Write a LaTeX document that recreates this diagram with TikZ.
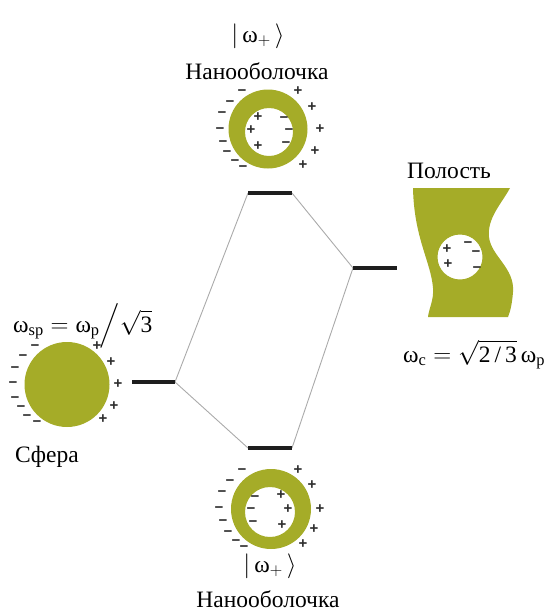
\documentclass[tikz,border=0pt]{standalone}
\usepackage{amsmath}
\usepackage{fontspec}
\setmainfont{Liberation Serif}
\newfontfamily\chgfont{Liberation Sans}
\definecolor{olive}{RGB}{165,172,40}
\definecolor{levelc}{RGB}{30,30,30}
\definecolor{linkc}{RGB}{170,170,170}
\definecolor{chgc}{RGB}{45,45,45}
\newcommand{\om}{\text{ω}}
\tikzset{
  level/.style={line width=4pt, draw=levelc},
  link/.style={line width=0.9pt, draw=linkc},
  lbl/.style={font=\fontsize{23.5}{28}\selectfont, inner sep=0pt, anchor=base},
  chg/.style={font=\chgfont\bfseries\fontsize{15}{15}\selectfont, text=chgc, inner sep=0pt, anchor=base},
  metal/.style={fill=olive, draw=none},
}
% charge signs: baseline placed a little below the given centre
\newcommand{\minuses}[2]{%
  \foreach [count=\i] \x/\y in {#2}
    \node[chg] (#1\i) at ([yshift=-5pt]\x,\y) {−};}
\newcommand{\pluses}[2]{%
  \foreach [count=\i] \x/\y in {#2}
    \node[chg] (#1\i) at ([yshift=-5pt]\x,\y) {+};}
\begin{document}
\begin{tikzpicture}[x=1pt,y=-1pt]
\useasboundingbox (0,0) rectangle (544,614);

% ---- energy levels ----
\coordinate (topL) at (248,193);  \coordinate (topR) at (292,193);
\coordinate (rgtL) at (353,268);  \coordinate (rgtR) at (397,268);
\coordinate (lftL) at (132,382);  \coordinate (lftR) at (175,382);
\coordinate (botL) at (248,448);  \coordinate (botR) at (292,448);

\draw[link] (lftR) -- (topL);
\draw[link] (topR) -- (rgtL);
\draw[link] (rgtL) -- (botR);
\draw[link] (lftR) -- (botL);

\draw[level] (topL) -- (topR);
\draw[level] (rgtL) -- (rgtR);
\draw[level] (lftL) -- (lftR);
\draw[level] (botL) -- (botR);

% ---- sphere ----
\fill[metal] (67,384.5) circle (42.5);
\minuses{sm}{35/345,23/355,15/367,13/382,15/397,21/406,27/415,37/421}
\pluses{sp}{97/345,111/361,118/383,114/405,103/418}

% ---- upper nanoshell ----
\fill[metal, even odd rule] (268,129) circle (39.5) (269,132) circle (24);
\minuses{um}{242/90,230/101,222/112,220/128,223/141,227/151,235/160,243/166,284/117,289/129,286/142}
\pluses{up}{298/90,312/106,320/128,315/150,303/164,258/116,251/129,258/145}

% ---- lower nanoshell ----
\fill[metal, even odd rule] (271,509) circle (40) (270,512) circle (25);
\minuses{lm}{242/469,230/480,222/491,219/507,223/520,228/531,236/540,244/546,255/496,251/508,253/521}
\pluses{lp}{298/469,312/484,320/508,314/528,303/543,281/494,288/508,282/524}

% ---- cavity in a metal slab ----
\fill[metal, even odd rule]
  (413,188) -- (510,188)
  .. controls (502,203) and (487,218) .. (489,237)
  .. controls (491,256) and (515,268) .. (513,292)
  .. controls (512,305) and (510,312) .. (508,317)
  -- (428,317)
  .. controls (429,308) and (434,300) .. (433,288)
  .. controls (431,262) and (414,238) .. (413,188) -- cycle
  (460,257) circle (22.5);
\pluses{cp}{447/248,448/263}
\minuses{cm}{468/242,476/251,477/267}

% ---- labels ----
\node[lbl] (ketT) at (258,42) {$|\,\om_{+}\,\rangle$};
\node[lbl] (nsT) at (257,79) {Нанооболочка};
\node[lbl] (cav) at (449,178) {Полость};
\node[lbl, anchor=base west] (wc) at (403,362) {$\om_{\text{c}} = \sqrt{\text{2\,/\,3}}\,\om_{\text{p}}$};
\node[lbl, anchor=base west] (wsp) at (13,332) {$\om_{\text{sp}} = \om_{\text{p}}\Big/\sqrt{\text{3}}$};
\node[lbl, anchor=base west] (sph) at (15,462) {Сфера};
\node[lbl] (ketB) at (270,572) {$|\,\om_{+}\,\rangle$};
\node[lbl] (nsB) at (268,607) {Нанооболочка};
\end{tikzpicture}
\end{document}
